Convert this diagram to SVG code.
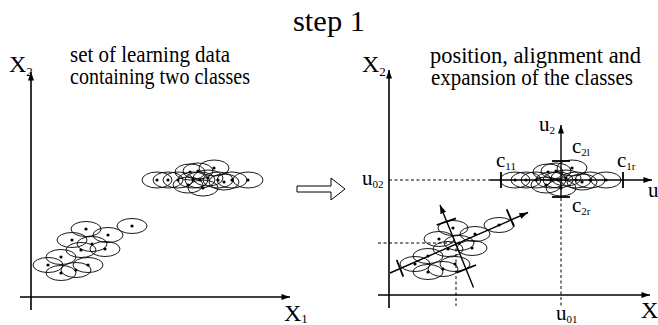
<svg xmlns="http://www.w3.org/2000/svg" xmlns:xlink="http://www.w3.org/1999/xlink" width="658" height="325" viewBox="0 0 658 325" font-family="'Liberation Serif', 'DejaVu Serif', serif">
<style>
text{font-family:'Liberation Serif','DejaVu Serif',serif;fill:#000}
.t{font-size:23px}
.lab{font-size:21px}
.X{font-size:24px}
.sub{font-size:11px}
.subX{font-size:13px}
.ax{stroke:#000;stroke-width:1.6;fill:none}
.ln{stroke:#000;stroke-width:1.4;fill:none}
.tk{stroke:#000;stroke-width:1.8;fill:none}
.dash{stroke:#000;stroke-width:1;stroke-dasharray:3,2.5;fill:none}
.el{fill:none;stroke:#000;stroke-width:0.9}
.dot{fill:#000}
</style>
<defs>
<marker id="ah" viewBox="0 0 10 7" refX="10" refY="3.5" markerWidth="10" markerHeight="6" markerUnits="userSpaceOnUse" orient="auto">
<path d="M0,0 L10,3.5 L0,7 z" fill="#000"/>
</marker>
<g id="clusterA">
<ellipse class="el" cx="157" cy="180" rx="15" ry="8"/>
<ellipse class="el" cx="168" cy="180" rx="15" ry="8"/>
<ellipse class="el" cx="178" cy="180" rx="15" ry="8"/>
<ellipse class="el" cx="190" cy="172" rx="15" ry="8"/>
<ellipse class="el" cx="198" cy="171" rx="15" ry="8"/>
<ellipse class="el" cx="214" cy="168" rx="15" ry="8"/>
<ellipse class="el" cx="193" cy="180" rx="15" ry="8"/>
<ellipse class="el" cx="203" cy="188" rx="15" ry="8"/>
<ellipse class="el" cx="218" cy="180" rx="15" ry="8"/>
<ellipse class="el" cx="224" cy="182" rx="15" ry="8"/>
<ellipse class="el" cx="232" cy="180" rx="15" ry="8"/>
<ellipse class="el" cx="248" cy="180" rx="15" ry="8"/>
<ellipse class="el" cx="188" cy="185" rx="15" ry="8"/>
<ellipse class="el" cx="208" cy="178" rx="15" ry="8"/>
<ellipse class="el" cx="200" cy="180" rx="15" ry="8"/>
<circle class="dot" cx="157" cy="180" r="1.6"/>
<circle class="dot" cx="168" cy="180" r="1.6"/>
<circle class="dot" cx="178" cy="180" r="1.6"/>
<circle class="dot" cx="190" cy="172" r="1.6"/>
<circle class="dot" cx="198" cy="171" r="1.6"/>
<circle class="dot" cx="214" cy="168" r="1.6"/>
<circle class="dot" cx="193" cy="180" r="1.6"/>
<circle class="dot" cx="203" cy="188" r="1.6"/>
<circle class="dot" cx="218" cy="180" r="1.6"/>
<circle class="dot" cx="224" cy="182" r="1.6"/>
<circle class="dot" cx="232" cy="180" r="1.6"/>
<circle class="dot" cx="248" cy="180" r="1.6"/>
<circle class="dot" cx="188" cy="185" r="1.6"/>
<circle class="dot" cx="208" cy="178" r="1.6"/>
<circle class="dot" cx="200" cy="180" r="1.6"/>
</g>
<g id="clusterB">
<ellipse class="el" cx="132" cy="226" rx="15" ry="7.5"/>
<ellipse class="el" cx="86" cy="229" rx="15" ry="7.5"/>
<ellipse class="el" cx="108" cy="235" rx="15" ry="7.5"/>
<ellipse class="el" cx="72" cy="240" rx="15" ry="7.5"/>
<ellipse class="el" cx="92" cy="244" rx="15" ry="7.5"/>
<ellipse class="el" cx="81" cy="250" rx="15" ry="7.5"/>
<ellipse class="el" cx="105" cy="249" rx="15" ry="7.5"/>
<ellipse class="el" cx="61" cy="257" rx="15" ry="7.5"/>
<ellipse class="el" cx="48" cy="265" rx="15" ry="7.5"/>
<ellipse class="el" cx="88" cy="265" rx="15" ry="7.5"/>
<ellipse class="el" cx="61" cy="273" rx="15" ry="7.5"/>
<ellipse class="el" cx="76" cy="270" rx="15" ry="7.5"/>
<circle class="dot" cx="132" cy="226" r="1.6"/>
<circle class="dot" cx="86" cy="229" r="1.6"/>
<circle class="dot" cx="108" cy="235" r="1.6"/>
<circle class="dot" cx="72" cy="240" r="1.6"/>
<circle class="dot" cx="92" cy="244" r="1.6"/>
<circle class="dot" cx="81" cy="250" r="1.6"/>
<circle class="dot" cx="105" cy="249" r="1.6"/>
<circle class="dot" cx="61" cy="257" r="1.6"/>
<circle class="dot" cx="48" cy="265" r="1.6"/>
<circle class="dot" cx="88" cy="265" r="1.6"/>
<circle class="dot" cx="61" cy="273" r="1.6"/>
<circle class="dot" cx="76" cy="270" r="1.6"/>
</g>
</defs>
<rect width="658" height="325" fill="#fff"/>
<text x="329" y="31" font-size="29" text-anchor="middle" textLength="72" lengthAdjust="spacingAndGlyphs">step 1</text>

<g id="left-panel">
<text class="t" x="70" y="62" textLength="160" lengthAdjust="spacingAndGlyphs">set of learning data</text>
<text class="t" x="70" y="84" textLength="180" lengthAdjust="spacingAndGlyphs">containing two classes</text>
<line class="ax" x1="31" y1="310" x2="31" y2="72" marker-end="url(#ah)"/>
<line class="ax" x1="20" y1="297" x2="290" y2="297" marker-end="url(#ah)"/>
<text class="X" x="9" y="72">X<tspan class="subX" dy="4">2</tspan></text>
<text class="X" x="284" y="321">X<tspan class="subX" dy="2">1</tspan></text>
<use href="#clusterA"/>
<use href="#clusterB"/>
</g>

<g id="transition-arrow">
<path d="M297,186 H331 V178 L345,189 L331,200 V192 H297 Z" fill="#fff" stroke="#000" stroke-width="1"/>
</g>

<g id="right-panel">
<text class="t" x="430" y="63" textLength="211" lengthAdjust="spacingAndGlyphs">position, alignment and</text>
<text class="t" x="431" y="85" textLength="202" lengthAdjust="spacingAndGlyphs">expansion of the classes</text>
<line class="ax" x1="389" y1="308" x2="389" y2="70" marker-end="url(#ah)"/>
<line class="ax" x1="378" y1="295" x2="650" y2="295" marker-end="url(#ah)"/>
<text class="X" x="362" y="72">X<tspan class="subX" dy="4">2</tspan></text>
<text class="X" x="641" y="318">X</text>

<g id="connectors">
<line class="dash" x1="389" y1="180" x2="490" y2="180"/>
<line class="dash" x1="561" y1="198" x2="561" y2="306"/>
<line class="dash" x1="378" y1="243" x2="456" y2="243"/>
<line class="dash" x1="456" y1="243" x2="456" y2="306"/>
</g>

<use href="#clusterA" transform="translate(358,0)"/>
<use href="#clusterB" transform="translate(367,-1)"/>

<line class="ln" x1="490" y1="180" x2="652" y2="180" marker-end="url(#ah)"/>
<line class="ln" x1="561" y1="198" x2="561" y2="125" marker-end="url(#ah)"/>
<line class="tk" x1="501" y1="172" x2="501" y2="188"/>
<line class="tk" x1="623" y1="172" x2="623" y2="188"/>
<line class="tk" x1="552" y1="161" x2="570" y2="161"/>
<line class="tk" x1="552" y1="197" x2="570" y2="197"/>

<line class="ln" x1="390" y1="273" x2="528" y2="212.5" marker-end="url(#ah)"/>
<line class="ln" x1="473.5" y1="287.5" x2="440" y2="205" marker-end="url(#ah)"/>
<line class="tk" x1="396.7" y1="260" x2="403.3" y2="276.7"/>
<line class="tk" x1="506.7" y1="209.3" x2="514" y2="226.7"/>
<line class="tk" x1="436.7" y1="225" x2="456" y2="218.3"/>
<line class="tk" x1="456.7" y1="272.7" x2="476" y2="265"/>

<text class="lab" x="539" y="131">u<tspan class="sub" dy="3">2</tspan></text>
<text class="lab" x="572" y="153">c<tspan class="sub" dy="3">2l</tspan></text>
<text class="lab" x="496" y="167">c<tspan class="sub" dy="3">11</tspan></text>
<text class="lab" x="617" y="167">c<tspan class="sub" dy="3">1r</tspan></text>
<text class="lab" x="572" y="212">c<tspan class="sub" dy="3">2r</tspan></text>
<text class="lab" x="648" y="197">u</text>
<text class="lab" x="362" y="185">u<tspan class="sub" dy="3">02</tspan></text>
<text class="lab" x="556" y="320">u<tspan class="sub" dy="3">01</tspan></text>
</g>
</svg>
